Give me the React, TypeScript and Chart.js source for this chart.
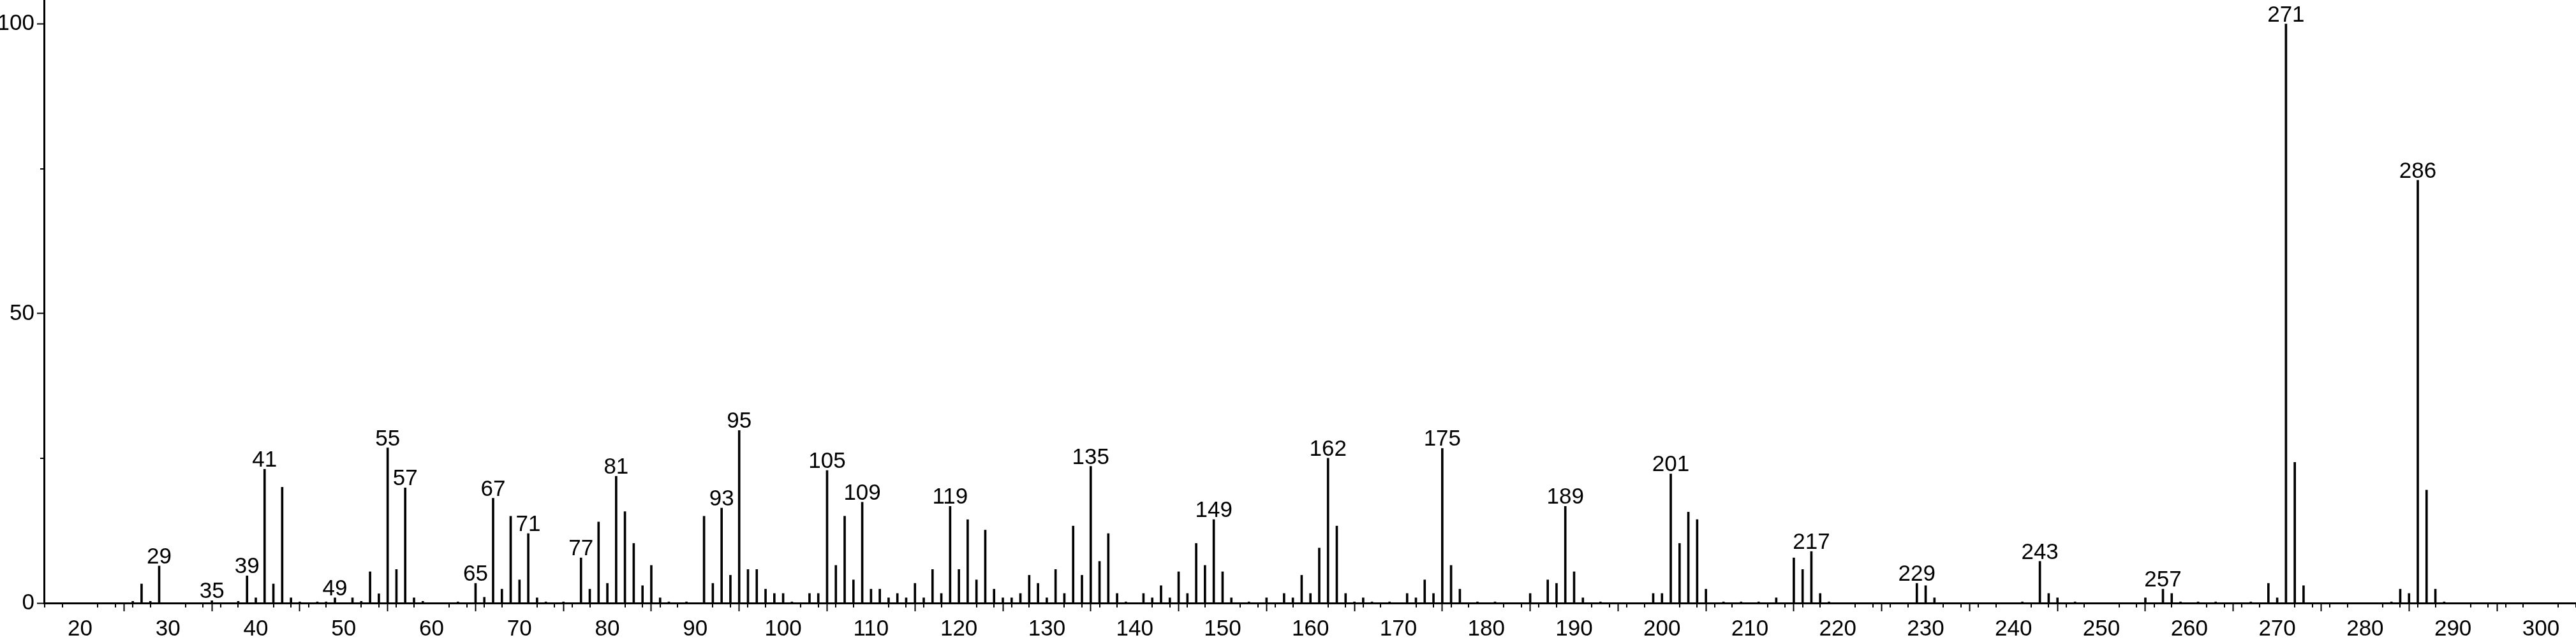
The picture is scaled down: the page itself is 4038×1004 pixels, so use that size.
import React, { useEffect, useRef } from "react";
import { Chart, registerables } from "chart.js";

Chart.register(...registerables);

// m/z values of the peaks
const MZ = [
  26, 27, 28, 29, 35, 38, 39, 40, 41, 42, 43, 44, 45, 47, 48, 49, 51, 52, 53, 54,
  55, 56, 57, 58, 59, 63, 65, 66, 67, 68, 69, 70, 71, 72, 73, 75, 77, 78, 79, 80,
  81, 82, 83, 84, 85, 86, 87, 89, 91, 92, 93, 94, 95, 96, 97, 98, 99, 100, 101, 103,
  104, 105, 106, 107, 108, 109, 110, 111, 112, 113, 114, 115, 116, 117, 118, 119, 120, 121, 122, 123,
  124, 125, 126, 127, 128, 129, 130, 131, 132, 133, 134, 135, 136, 137, 138, 139, 141, 142, 143, 144,
  145, 146, 147, 148, 149, 150, 151, 153, 155, 157, 158, 159, 160, 161, 162, 163, 164, 165, 166, 167,
  169, 171, 172, 173, 174, 175, 176, 177, 179, 181, 185, 187, 188, 189, 190, 191, 193, 199, 200, 201,
  202, 203, 204, 205, 207, 209, 211, 213, 215, 216, 217, 218, 219, 229, 230, 231, 241, 243, 244, 245,
  247, 255, 257, 258, 259, 261, 263, 267, 269, 270, 271, 272, 273, 283, 284, 285, 286, 287, 288, 289,
];

// relative intensities (%)
const INTENSITY = [
  0.3, 3.3, 0.3, 6.4, 0.4, 0.3, 4.7, 0.9, 23.1, 3.3, 20.0, 0.9, 0.2, 0.2, 0.2, 0.9, 0.9, 0.3, 5.4, 1.6,
  26.8, 5.8, 19.9, 0.9, 0.3, 0.2, 3.4, 1.0, 18.1, 2.4, 15.0, 4.0, 12.0, 0.9, 0.2, 0.2, 7.8, 2.4, 14.0, 3.4,
  21.9, 15.8, 10.3, 3.0, 6.5, 0.9, 0.2, 0.2, 15.0, 3.4, 16.4, 4.8, 29.8, 5.8, 5.8, 2.4, 1.65, 1.65, 0.2, 1.65,
  1.65, 22.9, 6.5, 15.0, 4.0, 17.4, 2.4, 2.4, 0.9, 1.65, 0.9, 3.4, 0.9, 5.8, 1.65, 16.7, 5.8, 14.4, 4.0, 12.6,
  2.4, 0.9, 0.9, 1.65, 4.8, 3.4, 0.9, 5.8, 1.65, 13.3, 4.8, 23.6, 7.2, 12.0, 1.65, 0.2, 1.65, 0.9, 3.0, 0.9,
  5.4, 1.65, 10.3, 6.5, 14.4, 5.4, 0.9, 0.2, 0.9, 1.65, 0.9, 4.8, 1.65, 9.5, 25.0, 13.3, 1.65, 0.2, 0.9, 0.2,
  0.2, 1.65, 0.9, 4.0, 1.65, 26.7, 6.5, 2.4, 0.2, 0.2, 1.65, 4.0, 3.4, 16.7, 5.4, 0.9, 0.2, 1.65, 1.65, 22.3,
  10.3, 15.7, 14.4, 2.4, 0.2, 0.2, 0.2, 0.9, 7.8, 5.8, 8.9, 1.65, 0.2, 3.4, 3.0, 0.9, 0.2, 7.2, 1.65, 0.9,
  0.2, 0.9, 2.4, 1.65, 0.2, 0.2, 0.2, 0.2, 3.4, 0.9, 100, 24.3, 3.0, 0.2, 2.4, 1.65, 73.0, 19.5, 2.4, 0.2,
];

// peaks annotated with their m/z
const LABELED_PEAKS = [
  29, 35, 39, 41, 49, 55, 57, 65, 67, 71, 77, 81, 93, 95, 105, 109, 119, 135, 149,
  162, 175, 189, 201, 217, 229, 243, 257, 271, 286,
];

// axis settings
const X_MIN = 15.9;
const X_MAX = 304;
const X_MAJOR_STEP = 10;
const X_MINOR_STEP = 2;
const Y_MIN = 0;
const Y_MAX = 104.15;
const Y_MAJOR_STEP = 50;
const Y_MINOR_STEP = 25;

const FONT_FAMILY = '"Liberation Sans Narrow", "Liberation Sans", Arial, sans-serif';
const FONT_SIZE = 35;

const minorTicksPlugin = {
  id: "minorTicks",
  afterDraw(chart: any) {
    const { ctx } = chart;
    const x = chart.scales.x;
    const y = chart.scales.y;
    const area = chart.chartArea;
    ctx.save();
    ctx.strokeStyle = "#000";
    ctx.lineWidth = 2;
    ctx.beginPath();
    for (let v = Math.ceil(X_MIN / X_MINOR_STEP) * X_MINOR_STEP; v <= X_MAX; v += X_MINOR_STEP) {
      if (v % X_MAJOR_STEP === 0) continue;
      const px = Math.round(x.getPixelForValue(v));
      ctx.moveTo(px, area.bottom);
      ctx.lineTo(px, area.bottom + 7);
    }
    for (let v = Y_MIN; v <= Y_MAX; v += Y_MINOR_STEP) {
      if (v % Y_MAJOR_STEP === 0) continue;
      const py = Math.round(y.getPixelForValue(v));
      ctx.moveTo(area.left, py);
      ctx.lineTo(area.left - 6, py);
    }
    ctx.stroke();
    ctx.restore();
  },
};

const peakLabelPlugin = {
  id: "peakLabels",
  afterDatasetsDraw(chart: any) {
    const { ctx } = chart;
    const x = chart.scales.x;
    const y = chart.scales.y;
    ctx.save();
    ctx.font = `${FONT_SIZE}px ${FONT_FAMILY}`;
    ctx.fillStyle = "#000";
    ctx.textAlign = "center";
    ctx.textBaseline = "alphabetic";
    LABELED_PEAKS.forEach((mz) => {
      const i = MZ.indexOf(mz);
      if (i < 0) return;
      ctx.fillText(String(mz), x.getPixelForValue(mz), y.getPixelForValue(INTENSITY[i]) - 4);
    });
    ctx.restore();
  },
};

export default function App() {
  const canvasRef = useRef<HTMLCanvasElement | null>(null);

  useEffect(() => {
    document.body.style.margin = "0";
    const canvas = canvasRef.current;
    if (!canvas) return;
    const chart = new Chart(canvas, {
      type: "bar",
      data: {
        datasets: [
          {
            data: MZ.map((m, i) => ({ x: m, y: INTENSITY[i] })),
            backgroundColor: "#000",
            borderWidth: 0,
            barThickness: 3,
          },
        ],
      },
      plugins: [minorTicksPlugin, peakLabelPlugin],
      options: {
        animation: false,
        responsive: true,
        maintainAspectRatio: false,
        devicePixelRatio: 1,
        layout: { padding: 0 },
        plugins: {
          legend: { display: false },
          tooltip: { enabled: false },
        },
        scales: {
          x: {
            type: "linear",
            min: X_MIN,
            max: X_MAX,
            offset: false,
            grid: {
              display: true,
              drawOnChartArea: false,
              drawTicks: true,
              tickLength: 13,
              tickWidth: 2,
              tickColor: "#000",
            },
            border: { display: true, color: "#000", width: 3 },
            ticks: {
              stepSize: X_MAJOR_STEP,
              autoSkip: false,
              includeBounds: false,
              maxRotation: 0,
              minRotation: 0,
              padding: 7,
              color: "#000",
              font: { family: FONT_FAMILY, size: FONT_SIZE },
            },
            afterFit(scale: any) {
              scale.height = 58;
              scale.paddingLeft = 0;
              scale.paddingRight = 0;
            },
          },
          y: {
            type: "linear",
            min: Y_MIN,
            max: Y_MAX,
            grid: {
              display: true,
              drawOnChartArea: false,
              drawTicks: true,
              tickLength: 11,
              tickWidth: 2,
              tickColor: "#000",
            },
            border: { display: true, color: "#000", width: 3 },
            ticks: {
              stepSize: Y_MAJOR_STEP,
              autoSkip: false,
              includeBounds: false,
              padding: 4,
              color: "#000",
              font: { family: FONT_FAMILY, size: FONT_SIZE },
            },
            afterFit(scale: any) {
              scale.width = 69;
              scale.paddingTop = 0;
              scale.paddingBottom = 0;
            },
          },
        },
      },
    });
    return () => chart.destroy();
  }, []);

  return (
    <div style={{ position: "absolute", left: 0, top: 0, width: 4038, height: 1004 }}>
      <canvas ref={canvasRef} />
    </div>
  );
}
